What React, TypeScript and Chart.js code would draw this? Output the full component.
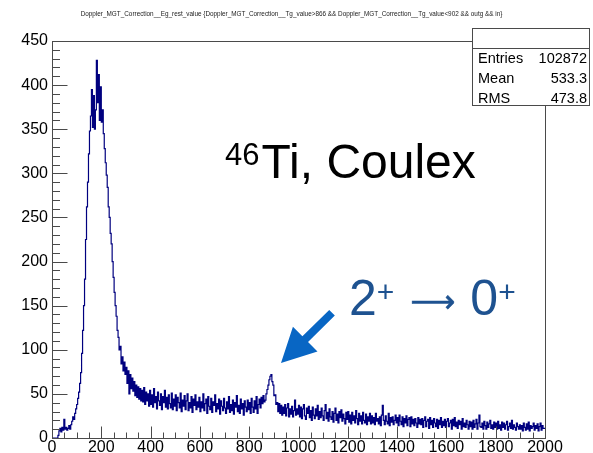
import { useEffect, useRef } from 'react';
import { Chart, registerables } from 'chart.js';

Chart.register(...registerables);

// ---- histogram: Doppler-corrected gamma energy, 4 keV bins from 0 to 2000 keV ----
const BIN_WIDTH = 4;
const ENERGY_MIN = 0;
const ENERGY_MAX = 2000;
const COUNT_MAX = 450;

// 0 - 396 keV (Coulomb-excitation bump around 190 keV)
const countsLow = [
  0, 0, 0, 0, 0, 0, 0, 3, 8, 11, 7, 12, 9, 21, 10, 12, 9, 11, 14, 10, 15, 19, 24, 21, 28,
  33, 38, 45, 52, 62, 74, 96, 122, 150, 180, 225, 262, 290, 322, 348, 365, 395, 352, 388, 350, 372, 428, 380, 412, 360,
  398, 358, 372, 345, 328, 312, 298, 284, 262, 250, 232, 220, 200, 182, 165, 150, 138, 122, 114, 100, 104, 84, 92, 76, 86,
  72, 80, 62, 76, 50, 72, 56, 68, 53, 64, 48, 60, 46, 58, 44, 56, 42, 54, 41, 57, 38, 52, 42, 50, 36,
];

// 400 - 996 keV (flat background and the 2+ -> 0+ line near 890 keV)
const countsMid = [
  54, 38, 49, 35, 56, 40, 47, 33, 52, 42, 37, 50, 32, 47, 40, 54, 35, 46, 33, 49, 39, 34, 51, 32, 44,
  36, 49, 31, 46, 40, 34, 51, 30, 43, 36, 48, 32, 42, 50, 31, 40, 34, 47, 29, 44, 37, 49, 32, 41, 35,
  46, 30, 41, 34, 50, 31, 39, 44, 28, 47, 36, 32, 45, 29, 41, 37, 49, 30, 39, 33, 44, 27, 42, 36, 31,
  45, 34, 28, 41, 33, 47, 29, 38, 31, 43, 27, 40, 35, 48, 30, 37, 28, 44, 33, 39, 26, 42, 35, 30, 43,
  32, 40, 28, 45, 35, 29, 42, 33, 47, 28, 38, 44, 34, 46, 39, 48, 41, 43, 50, 55, 60, 66, 70, 72, 64,
  60, 48, 49, 38, 40, 30, 39, 28, 37, 26, 35, 28, 38, 25, 34, 39, 24, 33, 27, 36, 24, 31, 43, 26, 33,
];

// 1000 - 1996 keV (slowly falling tail)
const countsHigh = [
  27, 37, 24, 35, 22, 33, 38, 25, 21, 34, 28, 36, 23, 31, 20, 35, 26, 22, 33, 25, 37, 21, 30, 23, 34,
  25, 20, 31, 38, 22, 29, 19, 33, 24, 21, 30, 18, 28, 34, 20, 27, 17, 30, 23, 32, 19, 27, 22, 16, 29,
  21, 30, 18, 26, 16, 29, 20, 25, 17, 31, 22, 15, 28, 19, 25, 16, 29, 20, 17, 27, 15, 24, 19, 28, 16,
  25, 17, 23, 15, 28, 19, 22, 16, 24, 14, 26, 37, 20, 15, 25, 19, 16, 28, 14, 23, 18, 24, 15, 20, 26,
  17, 23, 14, 26, 19, 15, 24, 13, 22, 17, 25, 14, 21, 23, 13, 24, 16, 21, 14, 22, 17, 12, 23, 16, 21,
  15, 22, 12, 20, 24, 13, 19, 21, 11, 23, 15, 20, 12, 22, 17, 13, 21, 11, 20, 15, 23, 12, 19, 14, 21,
  12, 19, 22, 13, 17, 20, 10, 21, 14, 23, 13, 18, 11, 20, 15, 19, 10, 22, 13, 17, 12, 20, 15, 10, 19,
  13, 18, 10, 20, 12, 16, 21, 10, 17, 26, 13, 12, 17, 10, 19, 14, 10, 18, 12, 16, 20, 11, 15, 10, 18,
  12, 17, 10, 19, 11, 15, 9, 18, 12, 17, 10, 15, 19, 9, 13, 17, 11, 20, 10, 15, 12, 9, 17, 13, 10,
  15, 10, 14, 8, 17, 12, 9, 16, 10, 18, 8, 14, 11, 13, 17, 9, 14, 11, 16, 8, 13, 17, 9, 14, 11,
];

const xTickValues = [0, 200, 400, 600, 800, 1000, 1200, 1400, 1600, 1800, 2000];
const yTickValues = [0, 50, 100, 150, 200, 250, 300, 350, 400, 450];

const histTitle =
  'Doppler_MGT_Correction__Eg_rest_value {Doppler_MGT_Correction__Tg_value>866 && Doppler_MGT_Correction__Tg_value<902 && outg && in}';
const statsLabels = ['Entries', 'Mean', 'RMS'];
const statsValues = ['102872', '533.3', '473.8'];

// annotation anchors in data coordinates (keV, counts)
const nucleusLabel = { x: 702, y: 295 };
const transitionLabel = { x: 1205, y: 139.5 };
const pointerTail = { x: 1136, y: 142 };
const pointerTip = { x: 929, y: 85 };

const FONT = '"Liberation Sans", Arial, Helvetica, sans-serif';
const LINE_COLOR = '#00007f';
const FRAME_COLOR = '#4a4a4a';
const TRANSITION_COLOR = '#1e5290';
const POINTER_COLOR = '#0866c4';

const rootStyle = {
  id: 'rootStyle',
  afterDraw(chart: any) {
    const { ctx, chartArea: a, scales } = chart;
    const xs = scales.x;
    const ys = scales.y;
    ctx.save();

    // plot frame
    ctx.strokeStyle = FRAME_COLOR;
    ctx.lineWidth = 1;
    const L = Math.round(a.left) + 0.5;
    const R = Math.round(a.right) + 0.5;
    const T = Math.round(a.top) + 0.5;
    const B = Math.round(a.bottom) + 0.5;
    ctx.strokeRect(L, T, R - L, B - T);

    // inward ticks: y every 10 (major 50), x every 50 (major 200)
    ctx.beginPath();
    for (let v = ys.min; v <= ys.max; v += 10) {
      const py = Math.round(ys.getPixelForValue(v)) + 0.5;
      const len = v % 50 === 0 ? 15 : 7.5;
      ctx.moveTo(L, py);
      ctx.lineTo(L + len, py);
    }
    for (let v = xs.min; v <= xs.max; v += 50) {
      const px = Math.round(xs.getPixelForValue(v)) + 0.5;
      const len = v % 200 === 0 ? 12 : 6;
      ctx.moveTo(px, B);
      ctx.lineTo(px, B - len);
    }
    ctx.stroke();

    // histogram title
    ctx.fillStyle = '#222';
    ctx.textAlign = 'center';
    ctx.textBaseline = 'alphabetic';
    ctx.font = `7px ${FONT}`;
    const tw = ctx.measureText(histTitle).width;
    const titleSize = (7 * 423) / tw;
    ctx.font = `${titleSize}px ${FONT}`;
    ctx.fillText(histTitle, 291.5, 16);

    // statistics box
    const bx = 472.5, by = 28.5, bw = 117, bh = 77;
    ctx.fillStyle = '#fff';
    ctx.fillRect(bx, by, bw, bh);
    ctx.strokeStyle = FRAME_COLOR;
    ctx.strokeRect(bx, by, bw, bh);
    ctx.beginPath();
    ctx.moveTo(bx, 48.5);
    ctx.lineTo(bx + bw, 48.5);
    ctx.stroke();
    ctx.fillStyle = '#000';
    ctx.font = `14.5px ${FONT}`;
    statsLabels.forEach((lab, i) => {
      const base = 63 + i * 19.8;
      ctx.textAlign = 'left';
      ctx.fillText(lab, 478, base);
      ctx.textAlign = 'right';
      ctx.fillText(statsValues[i], 587, base);
    });

    // nucleus label: 46Ti, Coulex
    ctx.textAlign = 'left';
    ctx.fillStyle = '#000';
    let cx = xs.getPixelForValue(nucleusLabel.x);
    const nb = ys.getPixelForValue(nucleusLabel.y);
    ctx.font = `31px ${FONT}`;
    ctx.fillText('46', cx, nb - 13);
    cx += ctx.measureText('46').width + 2;
    ctx.font = `48px ${FONT}`;
    ctx.fillText('Ti, Coulex', cx, nb);

    // transition label: 2+ -> 0+
    ctx.fillStyle = TRANSITION_COLOR;
    let tx = xs.getPixelForValue(transitionLabel.x);
    const tb = ys.getPixelForValue(transitionLabel.y);
    ctx.font = `50px ${FONT}`;
    ctx.fillText('2', tx, tb);
    tx += ctx.measureText('2').width;
    ctx.font = `30px ${FONT}`;
    ctx.fillText('+', tx, tb - 12.5);
    tx += ctx.measureText('+').width + 16;
    // long arrow glyph, scaled to 45 px wide, centred 13 px above the baseline
    ctx.font = `100px "DejaVu Sans"`;
    const am = ctx.measureText('\u27F6');
    const aSize = (100 * 45) / am.width;
    ctx.font = `${aSize}px "DejaVu Sans"`;
    const am2 = ctx.measureText('\u27F6');
    const mid = (am2.actualBoundingBoxAscent - am2.actualBoundingBoxDescent) / 2;
    ctx.strokeStyle = TRANSITION_COLOR;
    ctx.lineWidth = 0.6;
    ctx.fillText('\u27F6', tx, tb - 13 + mid);
    ctx.strokeText('\u27F6', tx, tb - 13 + mid);
    tx += am2.width + 15;
    ctx.font = `50px ${FONT}`;
    ctx.fillText('0', tx, tb);
    tx += ctx.measureText('0').width;
    ctx.font = `30px ${FONT}`;
    ctx.fillText('+', tx, tb - 12.5);

    // pointer arrow towards the 2+ -> 0+ peak
    const p0x = xs.getPixelForValue(pointerTail.x);
    const p0y = ys.getPixelForValue(pointerTail.y);
    const p1x = xs.getPixelForValue(pointerTip.x);
    const p1y = ys.getPixelForValue(pointerTip.y);
    const dx = p1x - p0x, dy = p1y - p0y;
    const len = Math.hypot(dx, dy);
    const ux = dx / len, uy = dy / len;
    const nx = -uy, ny = ux;
    const head = 34, hw = 17.5, sw = 4;
    const hx = p1x - ux * head, hy = p1y - uy * head;
    ctx.fillStyle = POINTER_COLOR;
    ctx.beginPath();
    ctx.moveTo(p0x + nx * sw, p0y + ny * sw);
    ctx.lineTo(hx + nx * sw, hy + ny * sw);
    ctx.lineTo(hx + nx * hw, hy + ny * hw);
    ctx.lineTo(p1x, p1y);
    ctx.lineTo(hx - nx * hw, hy - ny * hw);
    ctx.lineTo(hx - nx * sw, hy - ny * sw);
    ctx.lineTo(p0x - nx * sw, p0y - ny * sw);
    ctx.closePath();
    ctx.fill();

    ctx.restore();
  },
};

export default function App() {
  const canvasRef = useRef<HTMLCanvasElement | null>(null);

  useEffect(() => {
    const canvas = canvasRef.current;
    if (!canvas) return;
    const counts = [...countsLow, ...countsMid, ...countsHigh];
    const points = counts.map((c, i) => ({ x: ENERGY_MIN + i * BIN_WIDTH, y: c }));
    points.push({ x: ENERGY_MAX, y: counts[counts.length - 1] });

    const chart = new Chart(canvas, {
      type: 'line',
      data: {
        datasets: [
          {
            data: points,
            borderColor: LINE_COLOR,
            borderWidth: 1.2,
            pointRadius: 0,
            stepped: 'after',
            fill: false,
          },
        ],
      },
      options: {
        responsive: false,
        animation: false,
        events: [],
        layout: { padding: { top: 41, right: 48, bottom: 0, left: 0 } },
        plugins: {
          legend: { display: false },
          tooltip: { enabled: false },
          title: { display: false },
        },
        scales: {
          x: {
            type: 'linear',
            min: ENERGY_MIN,
            max: ENERGY_MAX,
            grid: { display: false, drawTicks: false },
            border: { display: false },
            ticks: {
              autoSkip: false,
              maxRotation: 0,
              padding: 0,
              color: '#000',
              font: { family: FONT, size: 16 },
              callback: (v: any) => String(v),
            },
            afterBuildTicks: (s: any) => {
              s.ticks = xTickValues.map((v) => ({ value: v }));
            },
            afterFit: (s: any) => {
              s.height = 15;
            },
          },
          y: {
            type: 'linear',
            min: 0,
            max: COUNT_MAX,
            grid: { display: false, drawTicks: false },
            border: { display: false },
            ticks: {
              autoSkip: false,
              padding: 4,
              color: '#000',
              font: { family: FONT, size: 16 },
              callback: (v: any) => String(v),
            },
            afterBuildTicks: (s: any) => {
              s.ticks = yTickValues.map((v) => ({ value: v }));
            },
            afterFit: (s: any) => {
              s.width = 52;
            },
          },
        },
      },
      plugins: [rootStyle],
    });
    return () => chart.destroy();
  }, []);

  return (
    <div style={{ position: 'fixed', left: 0, top: 0, width: 593, height: 453, background: '#fff' }}>
      <canvas ref={canvasRef} width={593} height={453} style={{ display: 'block' }} />
    </div>
  );
}
